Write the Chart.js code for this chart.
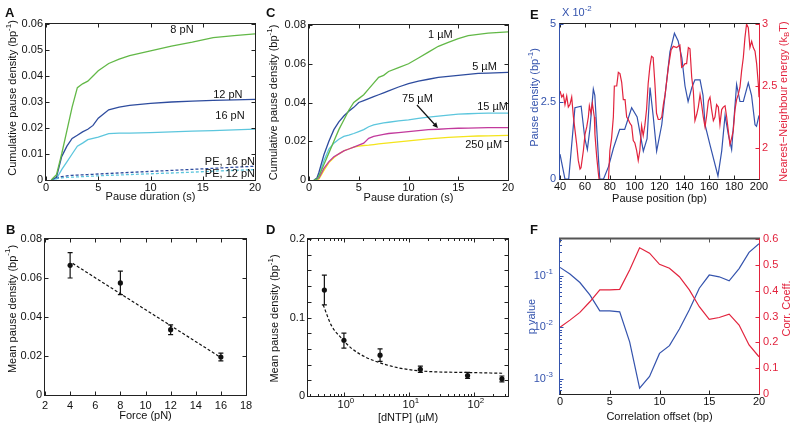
<!DOCTYPE html>
<html>
<head>
<meta charset="utf-8">
<script src="https://cdn.jsdelivr.net/npm/chart.js@4.4.1/dist/chart.umd.min.js"></script>
<style>
  body { margin: 0; background: #fff; }
  #wrap { position: relative; width: 796px; height: 428px; overflow: hidden; }
  canvas { position: absolute; }
  .tag { position: absolute; font: bold 13px "Liberation Sans", Arial, sans-serif; color: #111; }
</style>
</head>
<body>
<div id="wrap">
  <canvas id="cA" width="265" height="214" style="left:0;top:0"></canvas>
  <canvas id="cB" width="265" height="214" style="left:0;top:214px"></canvas>
  <canvas id="cC" width="265" height="214" style="left:265px;top:0"></canvas>
  <canvas id="cD" width="265" height="214" style="left:265px;top:214px"></canvas>
  <canvas id="cE" width="276" height="214" style="left:520px;top:0"></canvas>
  <canvas id="cF" width="276" height="214" style="left:520px;top:214px"></canvas>
  <div class="tag" style="left:5px;top:5px">A</div>
  <div class="tag" style="left:6px;top:222px">B</div>
  <div class="tag" style="left:266px;top:5px">C</div>
  <div class="tag" style="left:266px;top:222px">D</div>
  <div class="tag" style="left:530px;top:7px">E</div>
  <div class="tag" style="left:530px;top:222px">F</div>
</div>
<script>
// ---- panel A: cumulative pause density vs pause duration, by force
const A_T = [0.5, 1, 1.5, 2, 2.5, 3, 3.5, 4, 4.5, 5, 6, 7, 8, 10, 12, 14, 16, 18, 20];
const A_8PN = [0, 0.002, 0.010, 0.019, 0.028, 0.0355, 0.037, 0.038, 0.040, 0.042, 0.0448, 0.0465, 0.0478, 0.0497, 0.0515, 0.053, 0.0548, 0.0555, 0.0562];
const A_12PN = [0, 0.001, 0.009, 0.013, 0.016, 0.0172, 0.0185, 0.0195, 0.021, 0.0238, 0.027, 0.028, 0.0287, 0.0295, 0.0300, 0.0303, 0.0306, 0.0308, 0.031];
const A_16PN = [0, 0.0005, 0.004, 0.007, 0.010, 0.013, 0.0142, 0.0155, 0.016, 0.0165, 0.0178, 0.018, 0.018, 0.0182, 0.0185, 0.0188, 0.019, 0.0193, 0.0196];
const A_PE16 = [0, 0.0008, 0.0013, 0.0016, 0.0018, 0.0019, 0.002, 0.0021, 0.0022, 0.0023, 0.0025, 0.0027, 0.0029, 0.0033, 0.0037, 0.0041, 0.0045, 0.0049, 0.0053];
const A_PE12 = [0, 0.0005, 0.0008, 0.001, 0.0011, 0.0012, 0.0013, 0.0014, 0.0015, 0.0016, 0.0018, 0.0019, 0.0021, 0.0024, 0.0027, 0.003, 0.0034, 0.0037, 0.004];
const A_XT = [0, 5, 10, 15, 20];
const A_YT = [0, 0.01, 0.02, 0.03, 0.04, 0.05, 0.06];

// ---- panel B: mean pause density vs force
const FORCE = [4, 8, 12, 16];
const B_MEAN = [0.0665, 0.0575, 0.0335, 0.0195];
const B_LO = [0.060, 0.0515, 0.031, 0.0175];
const B_HI = [0.073, 0.0635, 0.036, 0.0215];
const B_FIT_X = [4.2, 16];
const B_FIT_Y = [0.0675, 0.0192];
const B_XT = [2, 4, 6, 8, 10, 12, 14, 16, 18];
const B_YT = [0, 0.02, 0.04, 0.06, 0.08];

// ---- panel C: cumulative pause density by [dNTP]
const C_T = [0.5, 0.8, 1, 1.5, 2, 2.5, 3, 3.5, 4, 4.5, 5, 5.5, 6, 6.5, 7, 7.5, 8, 9, 10, 11, 12, 13, 14, 15, 16, 17, 18, 20];
const C_1UM = [0, 0.0005, 0.002, 0.008, 0.014, 0.020, 0.026, 0.031, 0.036, 0.040, 0.042, 0.044, 0.047, 0.050, 0.053, 0.054, 0.056, 0.058, 0.060, 0.063, 0.066, 0.069, 0.071, 0.073, 0.0745, 0.0752, 0.0758, 0.0765];
const C_5UM = [0, 0.001, 0.004, 0.013, 0.020, 0.026, 0.030, 0.033, 0.0355, 0.0375, 0.040, 0.041, 0.042, 0.043, 0.044, 0.045, 0.046, 0.048, 0.0497, 0.051, 0.052, 0.053, 0.0535, 0.054, 0.0545, 0.055, 0.0552, 0.0555];
const C_15UM = [0, 0.0005, 0.002, 0.010, 0.016, 0.019, 0.021, 0.0225, 0.0232, 0.024, 0.025, 0.026, 0.0275, 0.0285, 0.029, 0.0295, 0.0298, 0.0305, 0.031, 0.0318, 0.0325, 0.033, 0.0335, 0.034, 0.0342, 0.0344, 0.0345, 0.0345];
const C_75UM = [0, 0.0005, 0.001, 0.006, 0.0095, 0.012, 0.0135, 0.015, 0.016, 0.017, 0.018, 0.019, 0.0215, 0.0225, 0.023, 0.0235, 0.024, 0.0245, 0.025, 0.0255, 0.026, 0.0262, 0.0265, 0.0267, 0.0268, 0.0269, 0.027, 0.027];
const C_250UM = [0, 0, 0.0005, 0.005, 0.009, 0.0115, 0.0135, 0.015, 0.016, 0.017, 0.0175, 0.0178, 0.018, 0.0183, 0.0186, 0.0189, 0.0192, 0.0197, 0.0202, 0.0207, 0.0212, 0.0216, 0.022, 0.0223, 0.0225, 0.0227, 0.0228, 0.023];
const C_XT = [0, 5, 10, 15, 20];
const C_YT = [0, 0.02, 0.04, 0.06, 0.08];

// ---- panel D: mean pause density vs [dNTP]
const DNTP = [0.5, 1, 3.6, 15, 80, 270];
const D_MEAN = [0.135, 0.071, 0.052, 0.034, 0.026, 0.022];
const D_LO = [0.116, 0.061, 0.044, 0.030, 0.0225, 0.018];
const D_HI = [0.154, 0.080, 0.060, 0.038, 0.030, 0.0255];
const D_FIT_X = [0.48, 0.64, 0.92, 1.31, 2.1, 3.8, 6.8, 12.3, 22, 72, 272];
const D_FIT_Y = [0.116, 0.090, 0.0735, 0.0607, 0.050, 0.0416, 0.036, 0.0327, 0.031, 0.030, 0.029];
const D_XT = [0.3, 0.4, 0.5, 0.6, 0.7, 0.8, 0.9, 1, 2, 3, 4, 5, 6, 7, 8, 9, 10, 20, 30, 40, 50, 60, 70, 80, 90, 100, 200, 300];
const D_XLAB = [1, 10, 100];
const D_YT = [0, 0.02, 0.04, 0.06, 0.08, 0.1, 0.12, 0.14, 0.16, 0.18, 0.2];
const D_YLAB = [0, 0.1, 0.2];

// ---- panel E: pause density and nearest-neighbour energy vs position
const E_POS = [40, 44, 47, 52, 57, 60, 62, 64, 66.8, 68, 71, 72, 75, 79, 83, 88, 92, 97.6, 102, 107, 110, 112.4, 115, 117.7, 121.8, 127, 128.4, 132, 135, 138, 140.5, 143, 146, 148.5, 152.6, 155, 156.6, 160.6, 167, 170, 172.7, 175.3, 178, 182, 184.7, 187.4, 191.4, 194, 196.8, 198, 200];
const E_DENS = [0.8, 0, 0, 2.3, 2.35, 1.3, 0.95, 1.6, 2.9, 2.7, 0.6, 0, 0, 0.4, 1.0, 1.6, 1.6, 2.3, 2.0, 0.9, 1.3, 2.95, 2.0, 0.9, 1.75, 3.6, 4.1, 4.7, 4.45, 3.9, 3.0, 2.5, 2.95, 3.2, 3.2, 2.7, 1.75, 1.1, 0.1, 0.9, 2.05, 1.45, 0.95, 3.05, 2.5, 2.5, 3.1, 2.7, 1.75, 1.7, 2.05];
const E_NN_POS = [40, 41.4, 42.7, 44, 45.4, 46.7, 48, 49.4, 50.8, 52.1, 53.4, 54.7, 56.1, 56.9, 58.8, 60.1, 61.5, 62.8, 63.6, 64.9, 66, 67.6, 68.1, 69.5, 70.8, 72, 76, 79, 80.1, 81.5, 82.9, 83.7, 85.6, 86.9, 88.2, 89.6, 90.9, 92.3, 93.6, 94.9, 96.2, 97.6, 98.9, 100.2, 101.6, 102.9, 104.2, 105.6, 106.9, 108.2, 109.6, 110.9, 112.3, 113.6, 114.9, 116.3, 117.6, 119, 120.4, 121.8, 123.1, 124.5, 125.8, 127.1, 129.3, 131.1, 133.8, 135.1, 136.4, 137.8, 139.1, 140.5, 141.8, 143.2, 144.5, 145.9, 147.2, 148.5, 149.9, 151.2, 152.6, 153.9, 155.2, 156.6, 157.9, 159.3, 160.6, 161.9, 163.3, 164.6, 165.9, 167.3, 168.6, 170, 171.3, 172.7, 174, 175.3, 176.6, 178, 179.3, 180.7, 182, 183.3, 184.7, 186, 187.4, 188.7, 190, 191.4, 192.7, 194.1, 195.4, 196.8, 198.1, 199.5, 200];
const E_NN = [2.46, 2.41, 2.43, 2.35, 2.42, 2.33, 2.35, 2.41, 2.25, 2.14, 2.03, 1.90, 1.83, 1.84, 1.98, 2.11, 2.17, 2.25, 2.34, 2.28, 2.36, 2.25, 2.11, 1.93, 1.80, 1.70, 1.65, 1.75, 1.98, 2.08, 2.25, 2.5, 2.5, 2.61, 2.6, 2.53, 2.39, 2.39, 2.25, 2.23, 2.2, 2.18, 2.06, 2.04, 1.98, 1.9, 1.98, 2.18, 2.1, 2.18, 2.31, 2.52, 2.66, 2.74, 2.73, 2.52, 2.28, 2.23, 2.23, 2.25, 2.35, 2.43, 2.54, 2.65, 2.79, 2.82, 2.81, 2.82, 2.83, 2.65, 2.66, 2.68, 2.68, 2.81, 2.8, 2.57, 2.46, 2.22, 2.27, 2.33, 2.43, 2.35, 2.25, 2.17, 2.26, 2.38, 2.41, 2.31, 2.22, 2.25, 2.35, 2.33, 2.19, 2.31, 2.33, 2.34, 2.25, 2.14, 2.03, 2.08, 2.14, 2.31, 2.39, 2.43, 2.49, 2.62, 2.73, 2.89, 3.0, 2.97, 2.81, 2.86, 2.81, 2.78, 2.68, 2.51, 2.41];
const E_XT = [40, 60, 80, 100, 120, 140, 160, 180, 200];
const E_YT = [0, 2.5, 5];
const E_Y2T = [2, 2.5, 3];

// ---- panel F: correlation vs offset
const F_OFFSET = [0, 1, 2, 3, 4, 5, 6, 7, 8, 9, 10, 11, 12, 13, 14, 15, 16, 17, 18, 19, 20];
const F_P = [0.148, 0.11, 0.075, 0.043, 0.021, 0.021, 0.020, 0.0052, 0.00065, 0.0011, 0.0031, 0.0044, 0.0093, 0.022, 0.058, 0.105, 0.097, 0.081, 0.14, 0.29, 0.43];
const F_R = [0.258, 0.286, 0.316, 0.357, 0.403, 0.403, 0.405, 0.48, 0.566, 0.545, 0.502, 0.487, 0.454, 0.403, 0.338, 0.289, 0.296, 0.309, 0.267, 0.19, 0.144];
const F_XT = [0, 5, 10, 15, 20];
const F_YT = [0.0006, 0.0007, 0.0008, 0.0009, 0.001, 0.002, 0.003, 0.004, 0.005, 0.006, 0.007, 0.008, 0.009, 0.01, 0.02, 0.03, 0.04, 0.05, 0.06, 0.07, 0.08, 0.09, 0.1, 0.2, 0.3, 0.4, 0.5];
const F_YLAB = [0.001, 0.01, 0.1];
const F_Y2T = [0, 0.1, 0.2, 0.3, 0.4, 0.5, 0.6];

const FONT = '"Liberation Sans", Arial, Helvetica, sans-serif';
const GREEN = '#62b847', NAVY = '#2e4c9e', CYAN = '#5cc6dd', MAGENTA = '#c2399c', YELLOW = '#f4e41c';
const BLUE = '#3453ad', RED = '#e2233d', INK = '#111';

Chart.defaults.font.family = FONT;
Chart.defaults.font.size = 11;
Chart.defaults.color = INK;

// per-canvas decoration settings, kept out of chart.js option resolution
const DECO = {};

function parseRich(s) {
  return s.split(/(\^\{[^}]*\}|_\{[^}]*\})/).filter(Boolean).map(p =>
    p[0] === '^' ? [p.slice(2, -1), 'sup'] : p[0] === '_' ? [p.slice(2, -1), 'sub'] : [p, '']);
}

function drawRich(ctx, str, x, y, rot, align, color) {
  const size = 11, segs = parseRich(str);
  ctx.save();
  ctx.translate(x, y);
  ctx.rotate(rot);
  ctx.fillStyle = color || INK;
  ctx.textBaseline = 'middle';
  ctx.textAlign = 'left';
  const fs = k => `${k ? size * 0.72 : size}px ${FONT}`;
  const ws = segs.map(([t, k]) => { ctx.font = fs(k); return ctx.measureText(t).width; });
  const total = ws.reduce((s, w) => s + w, 0);
  let pos = align === 'left' ? 0 : align === 'right' ? -total : -total / 2;
  segs.forEach(([t, k], i) => {
    ctx.font = fs(k);
    ctx.fillText(t, pos, k === 'sup' ? -size * 0.38 : k === 'sub' ? size * 0.28 : 0);
    pos += ws[i];
  });
  ctx.restore();
}

// box, inward tick marks, error bars, notes and titles in the matlab look
const deco = {
  id: 'deco',
  beforeDatasetsDraw(chart) {
    const o = DECO[chart.canvas.id] || {};
    if (!o.errors) return;
    const {ctx} = chart, xs = chart.scales.x, ys = chart.scales.y, e = o.errors;
    ctx.save();
    ctx.strokeStyle = INK;
    ctx.lineWidth = 1.2;
    e.x.forEach((v, i) => {
      const px = xs.getPixelForValue(v), p1 = ys.getPixelForValue(e.lo[i]), p2 = ys.getPixelForValue(e.hi[i]);
      ctx.beginPath();
      ctx.moveTo(px, p1); ctx.lineTo(px, p2);
      ctx.moveTo(px - 2.5, p1); ctx.lineTo(px + 2.5, p1);
      ctx.moveTo(px - 2.5, p2); ctx.lineTo(px + 2.5, p2);
      ctx.stroke();
    });
    ctx.restore();
  },
  afterDatasetsDraw(chart) {
    const o = DECO[chart.canvas.id] || {};
    const {ctx, chartArea: a, scales} = chart;
    const f = o.frame || {};
    const cl = f.left || '#222', cr = f.right || '#222', ct = f.top || '#222', cb = f.bottom || '#222';
    ctx.save();

    (o.notes || []).forEach(n => {
      ctx.font = `11px ${FONT}`;
      ctx.fillStyle = INK;
      ctx.textAlign = n.align || 'left';
      ctx.textBaseline = 'middle';
      ctx.fillText(n.text, scales.x.getPixelForValue(n.x), scales.y.getPixelForValue(n.y));
    });

    (o.arrows || []).forEach(r => {
      const x1 = scales.x.getPixelForValue(r.x1), y1 = scales.y.getPixelForValue(r.y1);
      const x2 = scales.x.getPixelForValue(r.x2), y2 = scales.y.getPixelForValue(r.y2);
      const ang = Math.atan2(y2 - y1, x2 - x1), h = 6;
      ctx.strokeStyle = INK; ctx.fillStyle = INK; ctx.lineWidth = 1.2;
      ctx.beginPath(); ctx.moveTo(x1, y1); ctx.lineTo(x2 - Math.cos(ang) * h * 0.8, y2 - Math.sin(ang) * h * 0.8); ctx.stroke();
      ctx.beginPath();
      ctx.moveTo(x2, y2);
      ctx.lineTo(x2 - h * Math.cos(ang - 0.45), y2 - h * Math.sin(ang - 0.45));
      ctx.lineTo(x2 - h * Math.cos(ang + 0.45), y2 - h * Math.sin(ang + 0.45));
      ctx.closePath(); ctx.fill();
    });

    const L = Math.round(a.left) - 0.5, R = Math.round(a.right) + 0.5;
    const T = Math.round(a.top) - 0.5, B = Math.round(a.bottom) + 0.5;
    const len = 4;
    const major = (s, v) => s.type !== 'logarithmic' ||
      Math.abs(Math.log10(v) - Math.round(Math.log10(v))) < 1e-6;
    const seg = (c, w, x1, y1, x2, y2) => {
      ctx.strokeStyle = c; ctx.lineWidth = w;
      ctx.beginPath(); ctx.moveTo(x1, y1); ctx.lineTo(x2, y2); ctx.stroke();
    };
    const xs = scales.x, ys = scales.y, y2s = scales.y2;
    xs.ticks.forEach(t => {
      const p = Math.round(xs.getPixelForValue(t.value)) + 0.5, l = major(xs, t.value) ? len : 2.5;
      seg(cb, 1, p, B, p, B - l);
      seg(ct, 1, p, T, p, T + l);
    });
    ys.ticks.forEach(t => {
      const p = Math.round(ys.getPixelForValue(t.value)) + 0.5, l = major(ys, t.value) ? len : 2.5;
      seg(cl, 1, L, p, L + l, p);
      if (!y2s) seg(cr, 1, R, p, R - l, p);
    });
    if (y2s) y2s.ticks.forEach(t => {
      const p = Math.round(y2s.getPixelForValue(t.value)) + 0.5;
      seg(cr, 1, R, p, R - len, p);
    });
    seg(ct, f.topWidth || 1, L - 0.5, T, R + 0.5, T);
    seg(cb, 1, L - 0.5, B, R + 0.5, B);
    seg(cl, 1, L, T, L, B);
    seg(cr, 1, R, T, R, B);
    ctx.restore();
  },
  afterDraw(chart) {
    const o = DECO[chart.canvas.id] || {};
    const {ctx, chartArea: a, scales} = chart;
    const midY = (a.top + a.bottom) / 2, midX = (a.left + a.right) / 2;
    (o.titles || []).forEach(t => {
      const sh = t.shift || 0;
      if (t.side === 'bottom') {
        drawRich(ctx, t.text, midX + sh, a.bottom + t.off, 0, 'center', t.color);
      } else {
        const bx = t.side === 'left' ? a.left : a.right;
        drawRich(ctx, t.text, bx + t.off, midY + sh, -Math.PI / 2, 'center', t.color);
      }
    });
    (o.pow || []).forEach(p => {
      const s = scales[p.scale];
      p.values.forEach(v => {
        const txt = `10^{${Math.round(Math.log10(v))}}`, px = s.getPixelForValue(v);
        if (p.side === 'bottom') drawRich(ctx, txt, px + (p.shift || 0), a.bottom + p.off, 0, 'center', p.color);
        else drawRich(ctx, txt, a.left - p.off, px, 0, 'right', p.color);
      });
    });
    (o.texts || []).forEach(t => drawRich(ctx, t.text, a.left + t.dx, a.top + t.dy, 0, 'left', t.color));
  }
};
Chart.register(deco);

function axis(o) {
  const lab = o.labels || o.ticks;
  return {
    type: o.type || 'linear', position: o.pos, min: o.min, max: o.max,
    grid: {display: false, drawTicks: false}, border: {display: false},
    ticks: {
      autoSkip: false, maxRotation: 0, padding: o.pad, color: o.color || INK,
      callback: v => lab.some(l => Math.abs(l - v) < 1e-9) ? String(v) : ''
    },
    afterBuildTicks: s => { s.ticks = o.ticks.map(v => ({value: v})); },
    afterFit: s => { if (s.isHorizontal()) s.height = o.size; else s.width = o.size; }
  };
}

const line = (xs, ys, color, extra) => Object.assign({
  data: xs.map((x, i) => ({x, y: ys[i]})),
  showLine: true, borderColor: color, borderWidth: 1.3, pointRadius: 0, fill: false
}, extra || {});

const dots = (xs, ys) => ({
  data: xs.map((x, i) => ({x, y: ys[i]})),
  showLine: false, pointRadius: 2.6, pointBackgroundColor: INK, pointBorderWidth: 0
});

function panel(id, cfg) {
  DECO[id] = cfg.deco;
  return new Chart(document.getElementById(id), {
    type: 'scatter',
    data: {datasets: cfg.datasets},
    options: {
      responsive: false, animation: false, devicePixelRatio: 1,
      layout: {padding: cfg.padding},
      scales: cfg.scales,
      plugins: {legend: {display: false}, tooltip: {enabled: false}}
    }
  });
}

panel('cA', {
  padding: {top: 24, right: 10, left: 0, bottom: 0},
  datasets: [
    line(A_T, A_8PN, GREEN),
    line(A_T, A_12PN, NAVY),
    line(A_T, A_16PN, CYAN),
    line(A_T, A_PE16, NAVY, {borderDash: [3, 2]}),
    line(A_T, A_PE12, CYAN, {borderDash: [3, 2]})
  ],
  scales: {
    x: axis({min: 0, max: 20, ticks: A_XT, pad: 1, size: 34}),
    y: axis({min: 0, max: 0.06, ticks: A_YT, pad: 3, size: 46})
  },
  deco: {
    notes: [
      {x: 11.9, y: 0.0577, text: '8 pN'},
      {x: 16.0, y: 0.0327, text: '12 pN'},
      {x: 16.2, y: 0.0246, text: '16 pN'},
      {x: 20, y: 0.0069, text: 'PE, 16 pN', align: 'right'},
      {x: 20, y: 0.0023, text: 'PE, 12 pN', align: 'right'}
    ],
    titles: [
      {side: 'left', text: 'Cumulative pause density (bp^{-1})', off: -33, shift: -4},
      {side: 'bottom', text: 'Pause duration (s)', off: 17}
    ]
  }
});

panel('cB', {
  padding: {top: 25, right: 19, left: 0, bottom: 0},
  datasets: [
    dots(FORCE, B_MEAN),
    line(B_FIT_X, B_FIT_Y, INK, {borderDash: [3, 2], borderWidth: 1.2})
  ],
  scales: {
    x: axis({min: 2, max: 18, ticks: B_XT, pad: 4, size: 33}),
    y: axis({min: 0, max: 0.08, ticks: B_YT, pad: 3, size: 45})
  },
  deco: {
    errors: {x: FORCE, lo: B_LO, hi: B_HI},
    titles: [
      {side: 'left', text: 'Mean pause density (bp^{-1})', off: -32.5, shift: -8},
      {side: 'bottom', text: 'Force (pN)', off: 20.5}
    ]
  }
});

panel('cC', {
  padding: {top: 25, right: 22, left: 0, bottom: 0},
  datasets: [
    line(C_T, C_1UM, GREEN),
    line(C_T, C_5UM, NAVY),
    line(C_T, C_15UM, CYAN),
    line(C_T, C_75UM, MAGENTA),
    line(C_T, C_250UM, YELLOW)
  ],
  scales: {
    x: axis({min: 0, max: 20, ticks: C_XT, pad: 1, size: 34}),
    y: axis({min: 0, max: 0.08, ticks: C_YT, pad: 3, size: 44})
  },
  deco: {
    notes: [
      {x: 11.96, y: 0.0748, text: '1 \u00b5M'},
      {x: 16.4, y: 0.0583, text: '5 \u00b5M'},
      {x: 9.35, y: 0.0418, text: '75 \u00b5M'},
      {x: 20, y: 0.0377, text: '15 \u00b5M', align: 'right'},
      {x: 15.7, y: 0.0181, text: '250 \u00b5M'}
    ],
    arrows: [{x1: 10.85, y1: 0.0387, x2: 12.96, y2: 0.0268}],
    titles: [
      {side: 'left', text: 'Cumulative pause density (bp^{-1})', off: -35},
      {side: 'bottom', text: 'Pause duration (s)', off: 18}
    ]
  }
});

panel('cD', {
  padding: {top: 25, right: 22, left: 0, bottom: 0},
  datasets: [
    dots(DNTP, D_MEAN),
    line(D_FIT_X, D_FIT_Y, INK, {borderDash: [3, 2], borderWidth: 1.2, cubicInterpolationMode: 'monotone'})
  ],
  scales: {
    x: axis({type: 'logarithmic', min: 0.28, max: 335, ticks: D_XT, labels: [], pad: 2, size: 32}),
    y: axis({min: 0, max: 0.2, ticks: D_YT, labels: D_YLAB, pad: 3, size: 43})
  },
  deco: {
    errors: {x: DNTP, lo: D_LO, hi: D_HI},
    pow: [{scale: 'x', side: 'bottom', values: D_XLAB, off: 9, shift: 2}],
    titles: [
      {side: 'left', text: 'Mean pause density (bp^{-1})', off: -33, shift: 1},
      {side: 'bottom', text: '[dNTP] (\u00b5M)', off: 21.5}
    ]
  }
});

panel('cE', {
  padding: {top: 24, right: 0, left: 0, bottom: 0},
  datasets: [
    line(E_NN_POS, E_NN, RED, {yAxisID: 'y2', borderWidth: 1.2}),
    line(E_POS, E_DENS, BLUE, {borderWidth: 1.2})
  ],
  scales: {
    x: axis({min: 40, max: 200, ticks: E_XT, pad: 1, size: 35}),
    y: axis({min: 0, max: 5, ticks: E_YT, pad: 4, size: 40, color: BLUE}),
    y2: axis({pos: 'right', min: 1.75, max: 3, ticks: E_Y2T, pad: 3, size: 37, color: RED})
  },
  deco: {
    frame: {left: BLUE, right: RED},
    texts: [{text: 'X 10^{-2}', dx: 2, dy: -11, color: BLUE}],
    titles: [
      {side: 'left', text: 'Pause density (bp^{-1})', off: -25, shift: -4, color: BLUE},
      {side: 'right', text: 'Nearest\u2212Neighbour energy (k_{B}T)', off: 25, color: RED},
      {side: 'bottom', text: 'Pause position (bp)', off: 20}
    ]
  }
});

panel('cF', {
  padding: {top: 25, right: 0, left: 0, bottom: 0},
  datasets: [
    line(F_OFFSET, F_R, RED, {yAxisID: 'y2', borderWidth: 1.2}),
    line(F_OFFSET, F_P, BLUE, {borderWidth: 1.2})
  ],
  scales: {
    x: axis({min: 0, max: 20, ticks: F_XT, pad: 1, size: 34}),
    y: axis({type: 'logarithmic', min: 0.0005, max: 0.53, ticks: F_YT, labels: [], pad: 4, size: 40, color: BLUE}),
    y2: axis({pos: 'right', min: 0, max: 0.6, ticks: F_Y2T, pad: 4, size: 37, color: RED})
  },
  deco: {
    frame: {left: BLUE, right: RED, top: '#555', topWidth: 2},
    pow: [{scale: 'y', side: 'left', values: F_YLAB, off: 7, color: BLUE}],
    titles: [
      {side: 'left', text: 'p value', off: -28.5, color: BLUE},
      {side: 'right', text: 'Corr. Coeff.', off: 28, shift: -8, color: RED},
      {side: 'bottom', text: 'Correlation offset (bp)', off: 22.5}
    ]
  }
});
</script>
</body>
</html>
